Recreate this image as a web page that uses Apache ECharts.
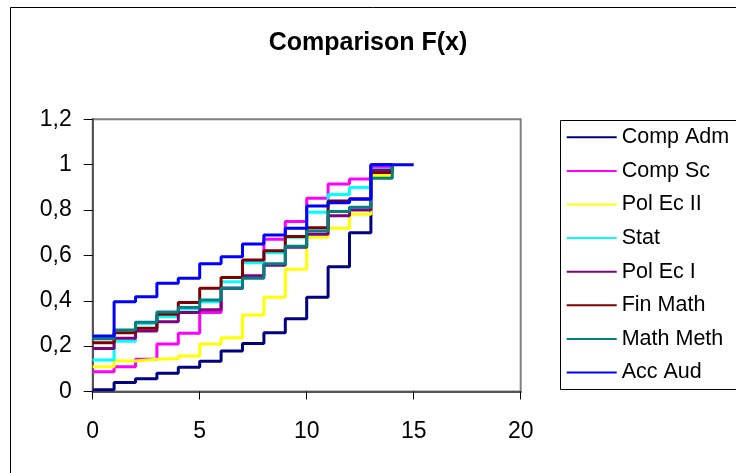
<!DOCTYPE html>
<html>
<head>
<meta charset="utf-8">
<script src="https://cdn.jsdelivr.net/npm/echarts@6/dist/echarts.min.js"></script>
<style>html,body{margin:0;padding:0;background:#fff;}#c{width:736px;height:473px;}</style>
</head>
<body>
<div id="c"></div>
<script>
const seriesNames = ['Comp Adm','Comp Sc','Pol Ec II','Stat','Pol Ec I','Fin Math','Math Meth','Acc Aud'];
const seriesColors = ['#000080','#FF00FF','#FFFF00','#00FFFF','#800080','#800000','#008080','#0000FF'];
const xTicks = [0,5,10,15,20];
const yTicks = ['0','0,2','0,4','0,6','0,8','1','1,2'];

// F(x) values at x = 0, 1, 2, ...
const compAdm  = [0.008,0.040,0.056,0.080,0.107,0.133,0.179,0.212,0.259,0.321,0.415,0.550,0.700,1.000,1.000];
const compSc   = [0.087,0.109,0.142,0.209,0.257,0.348,0.455,0.570,0.671,0.749,0.852,0.915,0.937,0.990,1.000];
const polEcII  = [0.109,0.134,0.142,0.145,0.157,0.209,0.237,0.337,0.415,0.539,0.680,0.720,0.781,0.952,1.000];
const stat     = [0.139,0.222,0.300,0.330,0.364,0.396,0.484,0.568,0.612,0.680,0.790,0.869,0.899,0.980,1.000];
const polEcI   = [0.190,0.235,0.267,0.308,0.348,0.360,0.455,0.510,0.557,0.636,0.693,0.775,0.800,0.975,1.000];
const finMath  = [0.215,0.259,0.279,0.341,0.392,0.455,0.503,0.580,0.621,0.683,0.722,0.840,0.850,0.965,1.000];
const mathMeth = [0.232,0.271,0.305,0.350,0.370,0.403,0.455,0.499,0.563,0.640,0.708,0.793,0.812,0.940,1.000];
const accAud   = [0.245,0.396,0.418,0.477,0.499,0.563,0.594,0.650,0.690,0.720,0.818,0.832,0.847,1.000,1.000,1.000];

const allValues = [compAdm, compSc, polEcII, stat, polEcI, finMath, mathMeth, accAud];
const FONT = "'Liberation Sans', Arial, sans-serif";

const chart = echarts.init(document.getElementById('c'), null, {renderer:'canvas'});
chart.setOption({
  animation: false,
  backgroundColor: '#fff',
  title: {
    text: 'Comparison F(x)', left: 'center', top: 25,
    textStyle: {fontFamily: FONT, fontSize: 25, fontWeight: 'bold', color: '#000', lineHeight: 26}
  },
  graphic: [
    {type:'rect', shape:{x:10.5, y:7.5, width:900, height:600}, style:{fill:null, stroke:'#000', lineWidth:1}, silent:true, z:-1},
    {type:'rect', shape:{x:560.5, y:120.5, width:300, height:269}, style:{fill:'#fff', stroke:'#000', lineWidth:1}, silent:true, z:-1}
  ],
  legend: {
    orient: 'vertical', left: 566.7, top: 125.3, padding: 0,
    itemWidth: 50, itemHeight: 2, itemGap: 9.6, icon: 'rect',
    textStyle: {fontFamily: FONT, fontSize: 21.5, color: '#000', lineHeight: 24},
    data: seriesNames
  },
  grid: {
    left: 92.7, right: 215.3, top: 119.3, bottom: 81.5,
    show: true, borderColor: '#808080', borderWidth: 2, backgroundColor: 'transparent'
  },
  xAxis: {
    type: 'value', min: xTicks[0], max: xTicks[xTicks.length-1], interval: 5,
    axisLine: {show:true, onZero:false, lineStyle:{color:'#555', width:2}},
    axisTick: {show:true, inside:false, length:8, lineStyle:{color:'#000', width:1}},
    splitLine: {show:false},
    axisLabel: {fontFamily: FONT, fontSize: 23, color:'#000', margin: 29, lineHeight: 23,
      formatter: v => String(v)}
  },
  yAxis: {
    type: 'value', min: 0, max: 1.2, interval: 0.2,
    axisLine: {show:true, onZero:false, lineStyle:{color:'#555', width:2}},
    axisTick: {show:true, inside:false, length:9, lineStyle:{color:'#000', width:1}},
    splitLine: {show:false},
    axisLabel: {fontFamily: FONT, fontSize: 23, color:'#000', margin: 21,
      formatter: v => yTicks[Math.round(v/0.2)]}
  },
  series: seriesNames.map((name, i) => ({
    name: name, type: 'line', step: 'end',
    showSymbol: false, symbol: 'none',
    color: seriesColors[i],
    lineStyle: {color: seriesColors[i], width: 3},
    itemStyle: {color: seriesColors[i]},
    data: allValues[i].map((v, x) => [x, v])
  }))
});
</script>
</body>
</html>
